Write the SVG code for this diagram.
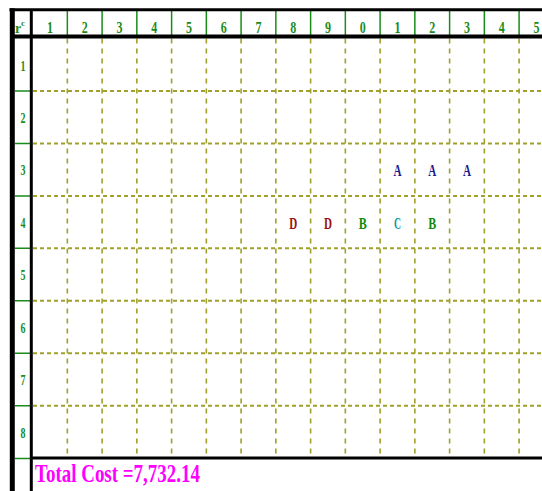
<svg xmlns="http://www.w3.org/2000/svg" width="542" height="491" viewBox="0 0 542 491">
<style>
.lbl{font-family:"Liberation Serif","Times New Roman",serif;font-weight:bold;fill:#1a8c1a;text-anchor:middle}
.hd{font-size:16px}
.rw{font-size:15px}
.cell{font-family:"Liberation Serif","Times New Roman",serif;font-weight:bold;font-size:17px;text-anchor:middle}
.vg{stroke:#a0a02a;stroke-width:1.6;stroke-dasharray:5 5;fill:none}
.hg{stroke:#a0a02a;stroke-width:2;stroke-dasharray:4 3;fill:none}
.gs{stroke:#1a8c1a;stroke-width:1.5;fill:none}
.bk{stroke:#000;fill:none}
</style>
<rect width="542" height="491" fill="#fff"/>
<g id="grid">
<path class="vg" d="M67.35 38.5V458M102.1 38.5V458M136.85 38.5V458M171.6 38.5V458M206.35 38.5V458M241.1 38.5V458M275.85 38.5V458M310.6 38.5V458M345.35 38.5V458M380.1 38.5V458M414.85 38.5V458M449.6 38.5V458M484.35 38.5V458M519.1 38.5V458"/>
<path class="hg" d="M33 91H542M33 143.4H542M33 195.9H542M33 248.3H542M33 300.8H542M33 353.2H542M33 405.7H542"/>
<path class="gs" d="M15 91H30M15 143.4H30M15 195.9H30M15 248.3H30M15 300.8H30M15 353.2H30M15 405.7H30M15 458.5H30"/>
<path class="gs" d="M67.35 11V35M102.1 11V35M136.85 11V35M171.6 11V35M206.35 11V35M241.1 11V35M275.85 11V35M310.6 11V35M345.35 11V35M380.1 11V35M414.85 11V35M449.6 11V35M484.35 11V35M519.1 11V35"/>
<path class="bk" stroke-width="3" d="M9.5 9.8H542"/>
<path class="bk" stroke-width="4" d="M12 36.5H542"/>
<path class="bk" stroke-width="3" d="M30 457.9H542"/>
<path class="bk" stroke-width="5" d="M12.3 8.3V491"/>
<path class="bk" stroke-width="3" d="M31.3 11V491"/>
</g>
<g id="header">
<text class="lbl" x="20" y="33" font-size="14">r<tspan font-size="9" dy="-7">c</tspan></text>
<text class="lbl hd" x="50" y="33" textLength="6" lengthAdjust="spacingAndGlyphs">1</text>
<text class="lbl hd" x="84.7" y="33" textLength="6" lengthAdjust="spacingAndGlyphs">2</text>
<text class="lbl hd" x="119.5" y="33" textLength="6" lengthAdjust="spacingAndGlyphs">3</text>
<text class="lbl hd" x="154.2" y="33" textLength="6" lengthAdjust="spacingAndGlyphs">4</text>
<text class="lbl hd" x="189" y="33" textLength="6" lengthAdjust="spacingAndGlyphs">5</text>
<text class="lbl hd" x="223.7" y="33" textLength="6" lengthAdjust="spacingAndGlyphs">6</text>
<text class="lbl hd" x="258.5" y="33" textLength="6" lengthAdjust="spacingAndGlyphs">7</text>
<text class="lbl hd" x="293.2" y="33" textLength="6" lengthAdjust="spacingAndGlyphs">8</text>
<text class="lbl hd" x="328" y="33" textLength="6" lengthAdjust="spacingAndGlyphs">9</text>
<text class="lbl hd" x="362.7" y="33" textLength="6" lengthAdjust="spacingAndGlyphs">0</text>
<text class="lbl hd" x="397.5" y="33" textLength="6" lengthAdjust="spacingAndGlyphs">1</text>
<text class="lbl hd" x="432.2" y="33" textLength="6" lengthAdjust="spacingAndGlyphs">2</text>
<text class="lbl hd" x="467" y="33" textLength="6" lengthAdjust="spacingAndGlyphs">3</text>
<text class="lbl hd" x="501.7" y="33" textLength="6" lengthAdjust="spacingAndGlyphs">4</text>
<text class="lbl hd" x="536.5" y="33" textLength="6" lengthAdjust="spacingAndGlyphs">5</text>
</g>
<g id="rows">
<text class="lbl rw" x="23" y="70.5" textLength="5" lengthAdjust="spacingAndGlyphs">1</text>
<text class="lbl rw" x="23" y="123" textLength="5" lengthAdjust="spacingAndGlyphs">2</text>
<text class="lbl rw" x="23" y="175.4" textLength="5" lengthAdjust="spacingAndGlyphs">3</text>
<text class="lbl rw" x="23" y="227.9" textLength="5" lengthAdjust="spacingAndGlyphs">4</text>
<text class="lbl rw" x="23" y="280.3" textLength="5" lengthAdjust="spacingAndGlyphs">5</text>
<text class="lbl rw" x="23" y="332.8" textLength="5" lengthAdjust="spacingAndGlyphs">6</text>
<text class="lbl rw" x="23" y="385.2" textLength="5" lengthAdjust="spacingAndGlyphs">7</text>
<text class="lbl rw" x="23" y="437.7" textLength="5" lengthAdjust="spacingAndGlyphs">8</text>
</g>
<g id="cells">
<text class="cell" x="397.5" y="176" fill="#1a1a8c" textLength="8" lengthAdjust="spacingAndGlyphs">A</text>
<text class="cell" x="432.2" y="176" fill="#1a1a8c" textLength="8" lengthAdjust="spacingAndGlyphs">A</text>
<text class="cell" x="467" y="176" fill="#1a1a8c" textLength="8" lengthAdjust="spacingAndGlyphs">A</text>
<text class="cell" x="293.2" y="228.5" fill="#9a1010" textLength="8" lengthAdjust="spacingAndGlyphs">D</text>
<text class="cell" x="328" y="228.5" fill="#9a1010" textLength="8" lengthAdjust="spacingAndGlyphs">D</text>
<text class="cell" x="362.7" y="228.5" fill="#108a10" textLength="8" lengthAdjust="spacingAndGlyphs">B</text>
<text class="cell" x="397.5" y="228.5" fill="#109a9a" textLength="7" lengthAdjust="spacingAndGlyphs">C</text>
<text class="cell" x="432.2" y="228.5" fill="#108a10" textLength="8" lengthAdjust="spacingAndGlyphs">B</text>
</g>
<g id="total">
<text x="35" y="482" font-family="Liberation Serif, Times New Roman, serif" font-weight="bold" font-size="26" fill="#ff00ff" textLength="165" lengthAdjust="spacingAndGlyphs">Total Cost =7,732.14</text>
</g>
</svg>
